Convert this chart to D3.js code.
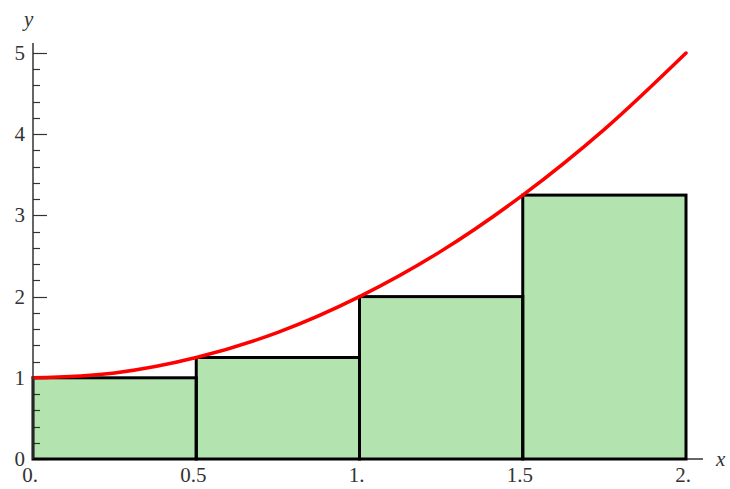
<!DOCTYPE html>
<html><head><meta charset="utf-8">
<script src="https://cdn.jsdelivr.net/npm/d3@7"></script>
<style>body{margin:0;background:#fff}svg{display:block}text{font-family:"Liberation Serif","Times New Roman",serif;font-size:21px;fill:#333}</style>
</head><body><svg id="c" width="730" height="489"></svg>
<script>
const rectLeft = [0, 0.5, 1, 1.5];
const rectWidth = 0.5;
const rectHeight = [1, 1.25, 2, 3.25];
const curveX = [0, 0.25, 0.5, 0.75, 1, 1.25, 1.5, 1.75, 2];
const curveY = [1, 1.06, 1.25, 1.56, 2, 2.56, 3.25, 4.06, 5];
const xTicks = [0, 0.5, 1, 1.5, 2];
const xTickLabels = ["0.", "0.5", "1.", "1.5", "2."];
const yTicks = [0, 1, 2, 3, 4, 5];
const yTickLabels = ["0", "1", "2", "3", "4", "5"];

const svg = d3.select("#c");
const x = d3.scaleLinear().domain([0, 2]).range([33, 686]);
const y = d3.scaleLinear().domain([0, 5]).range([459, 53]);

svg.append("g").selectAll("rect").data(rectLeft).join("rect")
  .attr("x", d => x(d)).attr("width", x(rectWidth) - x(0))
  .attr("y", (d, i) => y(rectHeight[i])).attr("height", (d, i) => y(0) - y(rectHeight[i]))
  .attr("fill", "#b3e4b0").attr("stroke", "none");

const axisColor = "#333";
const yMinor = d3.range(0, 5.0001, 0.2);
svg.append("line").attr("x1", x(0)).attr("x2", 703).attr("y1", y(0)).attr("y2", y(0))
  .attr("stroke", axisColor).attr("stroke-width", 1.5);
svg.append("g").selectAll("line").data(yMinor).join("line")
  .attr("x1", x(0)).attr("y1", d => Math.round(y(d)) + 0.5).attr("y2", d => Math.round(y(d)) + 0.5)
  .attr("x2", d => x(0) + (Math.abs(d - Math.round(d)) < 1e-6 ? 14 : 7))
  .attr("stroke", axisColor).attr("stroke-width", 1.2);
svg.append("g").selectAll("text").data(yTicks).join("text")
  .attr("x", 25).attr("y", d => y(d) + 7).attr("text-anchor", "end")
  .text((d, i) => yTickLabels[i]);
svg.append("g").selectAll("text").data(xTicks).join("text")
  .attr("x", d => x(d) - 3).attr("y", 482).attr("text-anchor", "middle")
  .text((d, i) => xTickLabels[i]);
svg.append("text").attr("x", 716).attr("y", 466).attr("font-style", "italic").text("x");
svg.append("text").attr("x", 24).attr("y", 26).attr("font-style", "italic").text("y");

svg.append("g").selectAll("rect").data(rectLeft).join("rect")
  .attr("x", d => x(d)).attr("width", x(rectWidth) - x(0))
  .attr("y", (d, i) => y(rectHeight[i])).attr("height", (d, i) => y(0) - y(rectHeight[i]))
  .attr("fill", "none").attr("stroke", "#000").attr("stroke-width", 3);

const pts = curveX.map((d, i) => [d, curveY[i]]);
svg.append("path").datum(pts)
  .attr("d", d3.line().x(d => x(d[0])).y(d => y(d[1])).curve(d3.curveCatmullRom))
  .attr("fill", "none").attr("stroke", "#ff0000").attr("stroke-width", 3.5).attr("stroke-linecap", "round");

svg.append("line").attr("x1", x(0)).attr("x2", x(0)).attr("y1", y(0)).attr("y2", 43)
  .attr("stroke", axisColor).attr("stroke-width", 1.5);
</script></body></html>
